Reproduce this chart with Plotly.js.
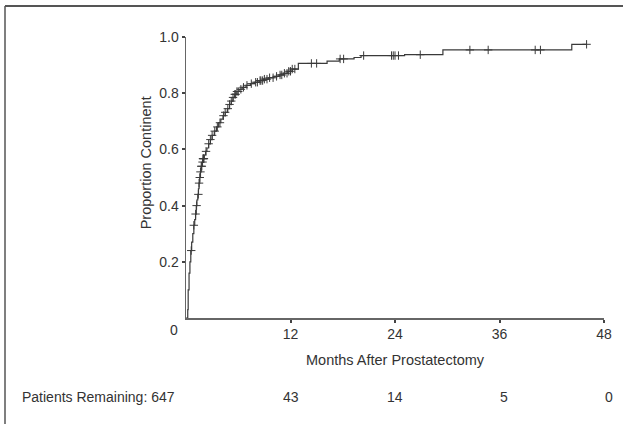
<!DOCTYPE html>
<html>
<head>
<meta charset="utf-8">
<script src="https://cdn.plot.ly/plotly-3.0.1.min.js"></script>
<style>
  html, body { margin: 0; padding: 0; background: #fff; }
  #chart { width: 623px; height: 424px; }
</style>
</head>
<body>
<div id="chart"></div>
<script>
// Step curve: months after prostatectomy and cumulative proportion continent
const stepMonths = [0, 0.2, 0.25, 0.35, 0.45, 0.55, 0.65, 0.78, 0.9, 1.0, 1.1, 1.18, 1.25, 1.35, 1.43, 1.5, 1.58, 1.66, 1.75, 1.85, 1.95, 2.1, 2.25, 2.4, 2.6, 2.8, 3.0, 3.25, 3.5, 3.75, 4.0, 4.25, 4.5, 4.75, 5.0, 5.2, 5.4, 5.6, 5.85, 6.1, 6.45, 6.9, 7.4, 7.9, 8.4, 8.9, 9.5, 10.1, 10.7, 11.2, 11.7, 12.2, 12.9, 16.2, 17.6, 19.3, 20.1, 25.1, 29.5, 44.3, 46.0];
const stepProportion = [0, 0.03, 0.1, 0.16, 0.2, 0.24, 0.27, 0.3, 0.33, 0.35, 0.37, 0.4, 0.42, 0.44, 0.46, 0.48, 0.5, 0.52, 0.54, 0.555, 0.567, 0.58, 0.593, 0.605, 0.62, 0.635, 0.65, 0.665, 0.68, 0.695, 0.708, 0.72, 0.732, 0.745, 0.76, 0.772, 0.785, 0.796, 0.806, 0.814, 0.821, 0.828, 0.834, 0.839, 0.845, 0.85, 0.855, 0.86, 0.865, 0.871, 0.878, 0.886, 0.906, 0.914, 0.922, 0.927, 0.934, 0.937, 0.954, 0.974, 0.974];

// Censored observations (months)
const censorMonths = [0.6, 0.9, 1.1, 1.22, 1.42, 1.5, 1.58, 1.66, 1.75, 1.82, 1.9, 1.95, 1.98, 2.02, 2.06, 2.3, 2.6, 2.8, 3.0, 3.3, 3.6, 3.9, 4.3, 4.5, 4.8, 5.0, 5.2, 5.4, 5.6, 5.7, 5.85, 6.0, 6.3, 6.6, 7.0, 7.5, 8.0, 8.2, 8.5, 8.6, 8.8, 9.0, 9.3, 9.6, 10.0, 10.4, 10.8, 11.0, 11.3, 11.6, 11.8, 12.0, 12.2, 12.5, 14.4, 15.0, 17.7, 18.1, 20.4, 23.6, 23.8, 24.0, 24.4, 26.9, 32.6, 34.7, 40.1, 40.7, 46.0];

// At-risk table
const riskMonths = [12, 24, 36, 48];
const riskCounts = [43, 14, 5, 0];
const riskLabel = "Patients Remaining: 647";

const xTickVals = [12, 24, 36, 48];
const yTickVals = [0.2, 0.4, 0.6, 0.8, 1.0];
const xTitle = "Months After Prostatectomy";
const yTitle = "Proportion Continent";

function valueAt(t) {
  let v = stepProportion[0];
  for (let i = 0; i < stepMonths.length; i++) {
    if (stepMonths[i] <= t) v = stepProportion[i]; else break;
  }
  return v;
}
const censorProportion = censorMonths.map(valueAt);

const ink = '#3a3a3a';
const font = {family: 'Liberation Sans, Arial, Helvetica, sans-serif', size: 14, color: '#333'};

const traces = [
  {x: stepMonths, y: stepProportion, type: 'scatter', mode: 'lines',
   line: {shape: 'hv', color: ink, width: 1.2}, hoverinfo: 'skip', showlegend: false},
  {x: censorMonths, y: censorProportion, type: 'scatter', mode: 'markers',
   marker: {symbol: 'cross-thin', size: 6, color: ink, line: {color: ink, width: 1}},
   hoverinfo: 'skip', showlegend: false}
];

const annotations = [
  {text: '0', xref: 'x', x: 0, xshift: -12, yref: 'paper', y: 0, yshift: -12, yanchor: 'middle', xanchor: 'center', showarrow: false, font: font},
  {text: yTitle, xref: 'paper', x: -0.097, yref: 'paper', y: 0.552, textangle: -90, xanchor: 'center', yanchor: 'middle', showarrow: false, font: Object.assign({}, font, {size: 14.5})},
  {text: xTitle, xref: 'x', x: 24, yref: 'paper', y: -0.149, xanchor: 'center', yanchor: 'middle', showarrow: false, font: Object.assign({}, font, {size: 14.5})},
  {text: riskLabel, xref: 'paper', x: -0.022, yref: 'paper', y: -0.281, xanchor: 'right', yanchor: 'middle', showarrow: false, font: font}
];
const riskShift = [0, 0, 4, 5];
riskCounts.forEach((c, i) => {
  annotations.push({text: String(c), xref: 'x', x: riskMonths[i], xshift: riskShift[i], yref: 'paper', y: -0.281,
    xanchor: 'center', yanchor: 'middle', showarrow: false, font: font});
});

const layout = {
  width: 623, height: 424,
  margin: {l: 186, r: 19, t: 37, b: 106, pad: 0},
  paper_bgcolor: '#fff', plot_bgcolor: '#fff',
  font: font,
  showlegend: false,
  xaxis: {range: [0, 48], tickvals: xTickVals, ticks: 'outside', ticklen: 3, tickwidth: 2, tickcolor: '#444',
    showline: true, linecolor: '#666', linewidth: 1.5, showgrid: false, zeroline: false, tickfont: font, fixedrange: true},
  yaxis: {range: [0, 1], tickvals: yTickVals, ticktext: ['0.2', '0.4', '0.6', '0.8', '1.0'], ticks: 'outside', ticklen: 3, tickwidth: 2, tickcolor: '#444',
    showline: true, linecolor: '#666', linewidth: 1.5, showgrid: false, zeroline: false, tickfont: font, fixedrange: true},
  annotations: annotations,
  shapes: [
    {type: 'line', xref: 'paper', yref: 'paper', x0: (5 - 186) / 418, x1: (623 - 186) / 418, y0: (318 - 6) / 281, y1: (318 - 6) / 281, line: {color: '#555', width: 2}},
    {type: 'line', xref: 'paper', yref: 'paper', x0: (5 - 186) / 418, x1: (5 - 186) / 418, y0: (318 - 6) / 281, y1: (318 - 424) / 281, line: {color: '#555', width: 1.5}}
  ]
};

Plotly.newPlot('chart', traces, layout, {staticPlot: true, displayModeBar: false});
</script>
</body>
</html>
